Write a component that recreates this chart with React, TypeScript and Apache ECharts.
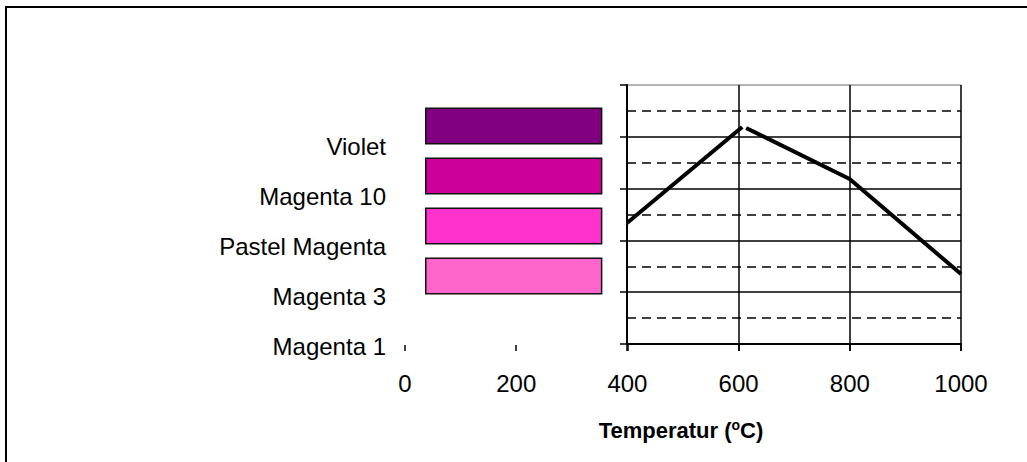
import { useEffect, useRef } from "react";
import * as echarts from "echarts";

const categories = ["Violet", "Magenta 10", "Pastel Magenta", "Magenta 3", "Magenta 1"];
const barColors = ["#800080", "#CC0099", "#FF33CC", "#FF66CC", "#FF99CC"];
const barStart: (number | null)[] = [36, 36, 36, 36, null];
const barEnd: (number | null)[] = [355, 355, 355, 355, null];
const xMin = 0;
const xMax = 1000;
const xStep = 200;
const lineSeg1X = [400, 607];
const lineSeg1Y = [4.67, 8.38];
const lineSeg2X = [614, 800, 1000];
const lineSeg2Y = [8.34, 6.37, 2.7];
const axisTitle = "Temperatur (";
const axisTitleSup = "o";
const axisTitleEnd = "C)";

const FONT = "'Liberation Sans', Arial, sans-serif";

export default function App() {
  const ref = useRef<HTMLDivElement>(null);
  useEffect(() => {
    if (!ref.current) return;
    const chart = echarts.init(ref.current, undefined, { renderer: "svg" });
    const baseData = barStart.map((v) => (v == null ? "-" : v));
    const lenData = barEnd.map((v, i) => {
      const s = barStart[i];
      if (v == null || s == null) return "-";
      return {
        value: v - s,
        itemStyle: { color: barColors[i], borderColor: "#111", borderWidth: 1.5 },
      };
    });
    const option: any = {
      animation: false,
      backgroundColor: "#fff",
      textStyle: { fontFamily: FONT },
      grid: [
        { left: 405, top: 101, width: 556, height: 250, containLabel: false },
        { left: 627, top: 85, width: 334, height: 259, containLabel: false },
      ],
      xAxis: [
        {
          gridIndex: 0,
          type: "value",
          min: xMin,
          max: xMax,
          interval: xStep,
          offset: -6,
          axisLine: { show: false },
          axisTick: { show: true, length: 6, lineStyle: { color: "#000", width: 1.5 } },
          axisLabel: {
            color: "#000",
            fontSize: 24,
            margin: 26,
            fontFamily: FONT,
            formatter: (v: number) => String(v),
          },
          splitLine: { show: false },
        },
        {
          gridIndex: 1,
          type: "value",
          min: 400,
          max: xMax,
          interval: xStep,
          axisLine: { show: true, lineStyle: { color: "#000", width: 2 } },
          axisTick: { show: true, length: 7, lineStyle: { color: "#000", width: 1.5 } },
          axisLabel: { show: false },
          splitLine: { show: true, lineStyle: { color: "#000", width: 1.5 } },
        },
      ],
      yAxis: [
        {
          gridIndex: 0,
          type: "category",
          inverse: true,
          data: categories,
          axisLine: { show: false },
          axisTick: { show: false },
          axisLabel: {
            color: "#000",
            margin: 19,
            fontFamily: FONT,
            formatter: (v: string) => `{c|${v}}`,
            rich: {
              c: { fontSize: 24, color: "#000", fontFamily: FONT, padding: [40, 0, 0, 0] },
            },
          },
        },
        {
          gridIndex: 1,
          type: "value",
          min: 0,
          max: 10,
          interval: 2,
          axisLine: { show: true, lineStyle: { color: "#000", width: 2 } },
          axisTick: { show: true, length: 7, lineStyle: { color: "#000", width: 1.5 } },
          axisLabel: { show: false },
          splitLine: {
            show: true,
            lineStyle: { color: ["#000", "#000", "#000", "#000", "#000", "#999"], width: 1.5 },
          },
          minorTick: { show: false, splitNumber: 2 },
          minorSplitLine: { show: true, lineStyle: { color: "#000", width: 1.5, type: [9, 6] } },
        },
      ],
      series: [
        {
          type: "bar",
          xAxisIndex: 0,
          yAxisIndex: 0,
          stack: "b",
          data: baseData,
          itemStyle: { color: "transparent" },
          barWidth: 37,
          silent: true,
        },
        {
          type: "bar",
          xAxisIndex: 0,
          yAxisIndex: 0,
          stack: "b",
          data: lenData,
          barWidth: 37,
        },
        {
          type: "line",
          xAxisIndex: 1,
          yAxisIndex: 1,
          data: lineSeg1X.map((x, i) => [x, lineSeg1Y[i]]),
          showSymbol: false,
          symbol: "none",
          lineStyle: { color: "#000", width: 4 },
        },
        {
          type: "line",
          xAxisIndex: 1,
          yAxisIndex: 1,
          data: lineSeg2X.map((x, i) => [x, lineSeg2Y[i]]),
          showSymbol: false,
          symbol: "none",
          lineStyle: { color: "#000", width: 4 },
        },
      ],
      graphic: [
        {
          type: "rect",
          shape: { x: 6, y: 7, width: 1040, height: 480 },
          style: { fill: "none", stroke: "#000", lineWidth: 2 },
          z: 100,
        },
        {
          type: "text",
          x: 681,
          y: 430,
          style: {
            text: `{a|${axisTitle}}{s|${axisTitleSup}}{a|${axisTitleEnd}}`,
            align: "center",
            verticalAlign: "middle",
            rich: {
              a: { fontSize: 22, fontWeight: "bold", fill: "#000", fontFamily: FONT },
              s: { fontSize: 14, fontWeight: "bold", fill: "#000", fontFamily: FONT, padding: [0, 0, 10, 0] },
            },
          },
        },
      ],
    };
    chart.setOption(option);
    return () => chart.dispose();
  }, []);
  return (
    <div
      ref={ref}
      style={{ position: "fixed", left: 0, top: 0, width: 1027, height: 462 }}
    />
  );
}
